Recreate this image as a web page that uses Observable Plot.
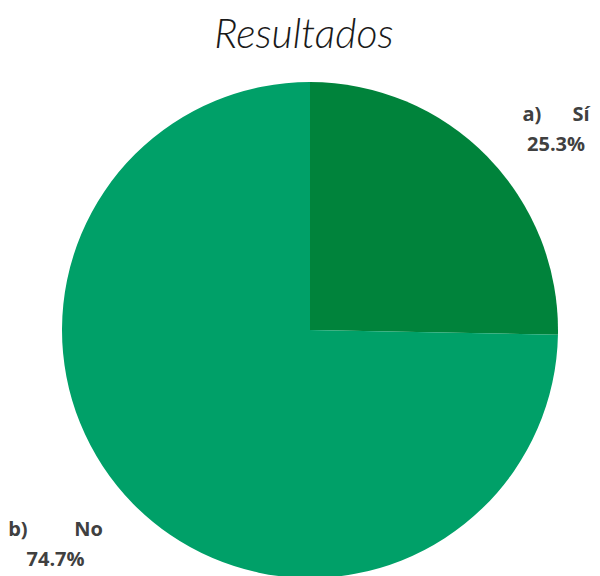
<!DOCTYPE html>
<html>
<head>
<meta charset="utf-8">
<script src="https://cdn.jsdelivr.net/npm/d3@7"></script>
<script src="https://cdn.jsdelivr.net/npm/@observablehq/plot@0.6"></script>
<style>
  html, body { margin: 0; padding: 0; background: #fff; overflow: hidden; }
  #title { height: 66px; text-align: center; font-family: Lato, sans-serif; font-weight: 300; font-style: italic;
           font-size: 41px; color: #1a1a1a; line-height: 66px; padding-left: 8px; box-sizing: border-box; }
</style>
</head>
<body>
<div id="title">Resultados</div>
<div id="chart"></div>
<script>
const categories = ["a)\u00a0\u00a0\u00a0\u00a0\u00a0\u00a0Sí", "b)\u00a0\u00a0\u00a0\u00a0\u00a0\u00a0\u00a0\u00a0\u00a0No"];
const values = [25.3, 74.7];
const percentLabels = ["25.3%", "74.7%"];
const colors = ["#00833B", "#00A068"];

const data = categories.map((c, i) => ({category: c, value: values[i], label: percentLabels[i], color: colors[i]}));
const arcs = d3.pie().sort(null).value(d => d.value)(data);

// label placement (layout, not data)
const labelAt = [[0.99, 0.823], [-1.028, -0.85]];
const labels = arcs.map((a, i) => ({x: labelAt[i][0], y: labelAt[i][1], text: a.data.category + "\n" + a.data.label}));

function pieMark(index, scales, values, dims, context) {
  const cx = scales.x(0), cy = scales.y(0);
  const r = scales.x(1) - scales.x(0);
  const g = d3.select(context.document.createElementNS("http://www.w3.org/2000/svg", "g"))
    .attr("transform", `translate(${cx},${cy})`);
  const arcGen = d3.arc().innerRadius(0).outerRadius(r);
  g.selectAll("path").data(arcs).join("path")
    .attr("d", arcGen)
    .attr("fill", d => d.data.color);
  return g.node();
}

const chart = Plot.plot({
  width: 600,
  height: 510,
  margin: 0,
  x: {domain: [-1, 1], range: [62, 558], axis: null},
  y: {domain: [-1, 1], range: [512, 16], axis: null},
  style: {overflow: "visible"},
  marks: [
    pieMark,
    Plot.text(labels, {x: "x", y: "y", text: "text", lineHeight: 1.5, fontSize: 20, fontWeight: "bold",
      fill: "#404040", fontFamily: "'Open Sans', sans-serif"})
  ]
});
document.getElementById("chart").appendChild(chart);
</script>
</body>
</html>
